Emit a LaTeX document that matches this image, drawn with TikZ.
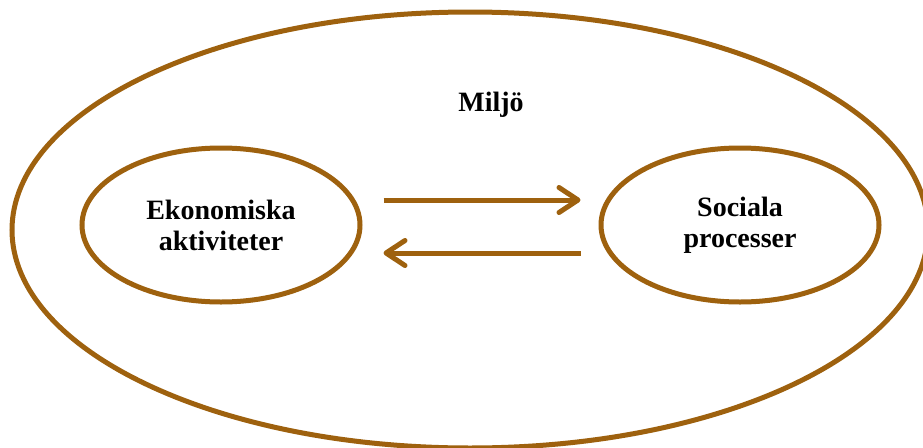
\documentclass[tikz,border=0pt]{standalone}
\usepackage{fontspec}
\setmainfont{Liberation Serif}
\usetikzlibrary{shapes.geometric,arrows.meta}
\definecolor{rust}{RGB}{158,97,14}
\tikzset{
  ring/.style={draw=rust, line width=5pt, ellipse, inner sep=0pt},
  label/.style={font=\fontsize{28}{31}\selectfont\bfseries, align=center, text=black},
  flow/.style={draw=rust, line width=5pt,
    -{Straight Barb[length=19pt,width=25pt,line cap=round,line join=round]}}
}
\begin{document}
\begin{tikzpicture}[x=1pt,y=-1pt]
  \useasboundingbox (0,0) rectangle (923,447);
  \clip (0,0) rectangle (923,447);
  \fill[white] (0,0) rectangle (923,447);
  % surrounding environment
  \node[ring, minimum width=916pt, minimum height=436pt] (env) at (470,230) {};
  \node[label, anchor=base] (miljo) at (491,111) {Miljö};
  % the two interacting spheres
  \node[ring, label, minimum width=278pt, minimum height=154pt] (eko) at (221,225)
    {Ekonomiska\\aktiviteter};
  \node[ring, label, minimum width=278pt, minimum height=154pt] (soc) at (740,225)
    {Sociala\\processer};
  % exchanges between them
  \draw[flow] ([xshift=21pt,yshift=25pt]eko.east) -- ([xshift=-18pt,yshift=25pt]soc.west);
  \draw[flow] ([xshift=-18pt,yshift=-28pt]soc.west) -- ([xshift=21pt,yshift=-28pt]eko.east);
\end{tikzpicture}
\end{document}
